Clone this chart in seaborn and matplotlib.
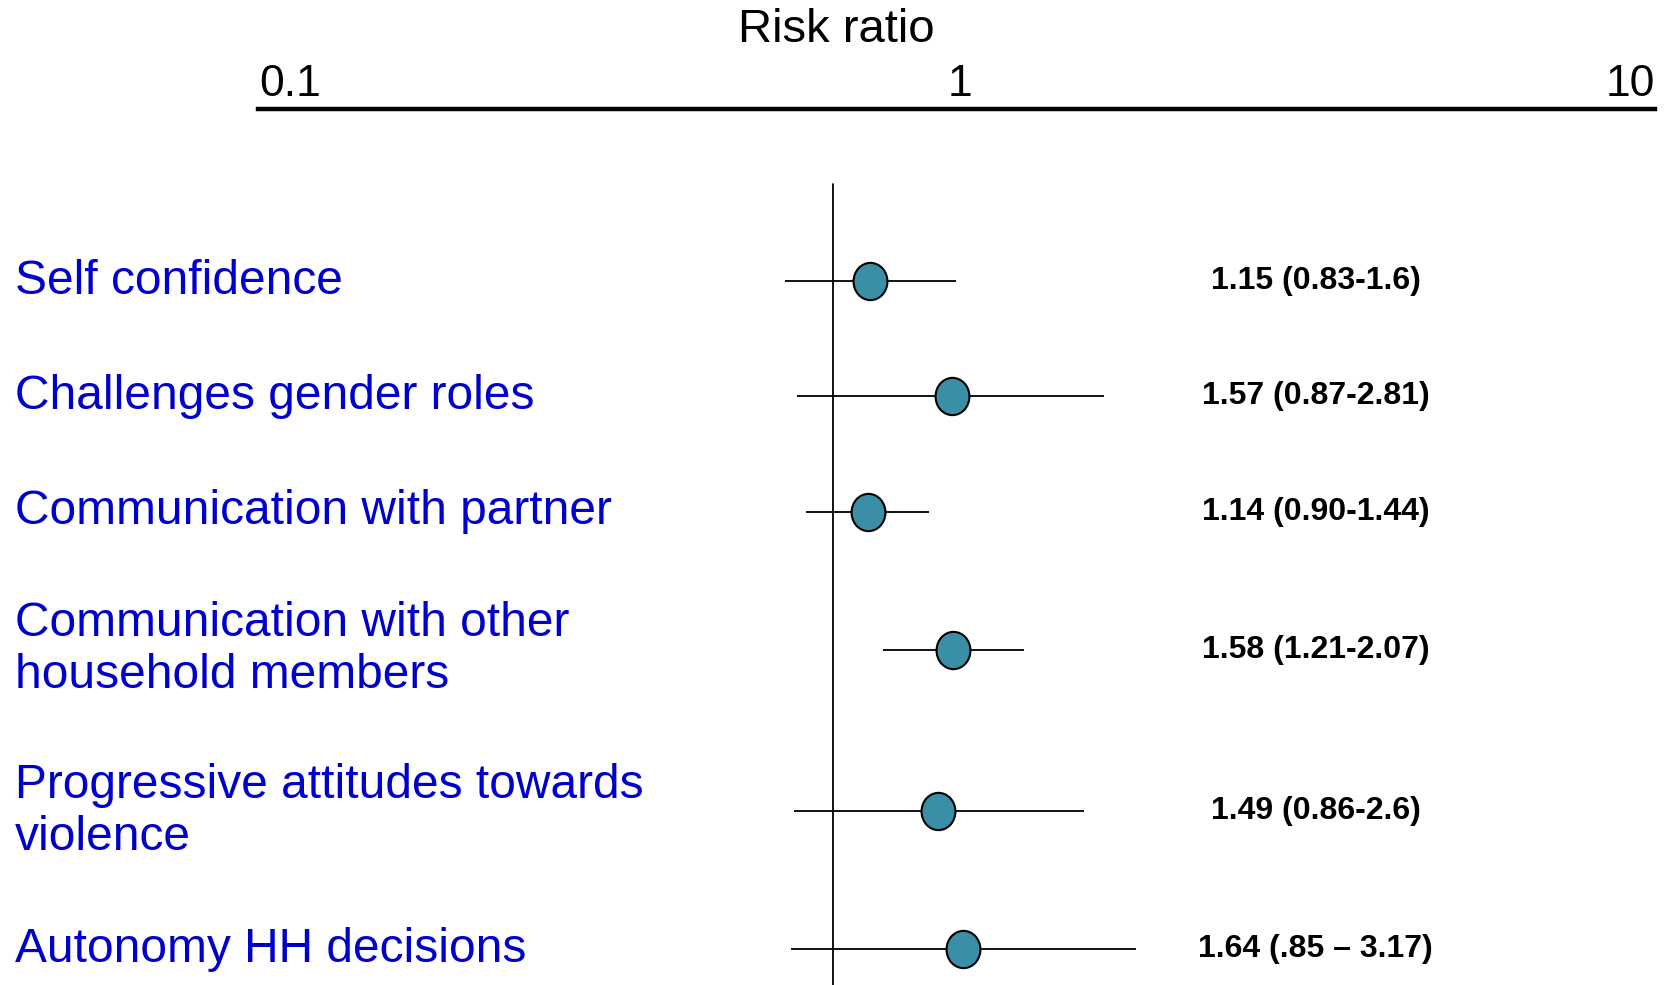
import numpy as np
import pandas as pd
import matplotlib
matplotlib.use("Agg")
import matplotlib.pyplot as plt
import seaborn as sns
from matplotlib.path import Path
from matplotlib.ticker import FixedLocator, NullLocator

# Data
outcomes = [
    "Self confidence",
    "Challenges gender roles",
    "Communication with partner",
    "Communication with other\nhousehold members",
    "Progressive attitudes towards\nviolence",
    "Autonomy HH decisions",
]
risk_ratio = [1.15, 1.57, 1.14, 1.58, 1.49, 1.64]
ci_low = [0.83, 0.87, 0.90, 1.21, 0.86, 0.85]
ci_high = [1.6, 2.81, 1.44, 2.07, 2.6, 3.17]
ci_labels = [
    "1.15 (0.83-1.6)",
    "1.57 (0.87-2.81)",
    "1.14 (0.90-1.44)",
    "1.58 (1.21-2.07)",
    "1.49 (0.86-2.6)",
    "1.64 (.85 \u2013 3.17)",
]
scale_ticks = [0.1, 1, 10]

sns.set_theme(style="white")
plt.rcParams["font.family"] = ["Liberation Sans", "DejaVu Sans"]

# Row positions: extra room for labels that wrap onto two lines
extra = [o.count("\n") for o in outcomes]
gaps = [0] + [1 + 0.2 * (extra[i - 1] + extra[i]) for i in range(1, len(outcomes))]
pos = np.cumsum(gaps)

df = pd.DataFrame({"outcome": outcomes, "rr": risk_ratio, "lo": ci_low,
                   "hi": ci_high, "label": ci_labels, "pos": pos})

# slightly tall ellipse marker, like the drawn shapes on the slide
circ = Path.unit_circle()
oval = Path(circ.vertices * np.array([1.0, 1.1]), circ.codes)

fig = plt.figure(figsize=(16.74, 9.85), dpi=100)

# Main forest plot area spans the whole figure
ax = fig.add_axes([0, 0, 1, 1])
ax.set_xscale("log")
ax.set_xlim(10 ** -1.382, 10 ** 1.394)
ax.set_ylim(6.11, -2.44)
ax.axis("off")

ax.axvline(1, ymin=0, ymax=0.813, color="black", lw=1.3, zorder=1)
ax.hlines(df["pos"], df["lo"], df["hi"], color="black", lw=1.3, zorder=2)
sns.scatterplot(data=df, x="rr", y="pos", ax=ax, s=720, marker=oval, color="#3A8FA7",
                edgecolor="black", linewidth=1.5, zorder=3, legend=False)

for _, row in df.iterrows():
    ax.text(0.009, row["pos"], row["outcome"], transform=ax.get_yaxis_transform(),
            ha="left", va="center", fontsize=34.5, color="#0000CC", linespacing=1.2)
    ax.text(0.786, row["pos"], row["label"], transform=ax.get_yaxis_transform(),
            ha="center", va="center", fontsize=23, fontweight="bold", color="black")

# Scale bar at the top
ax_top = fig.add_axes([258 / 1674, 0.888, (1655 - 258) / 1674, 0.001])
ax_top.set_xscale("log")
ax_top.set_xlim(10 ** -1.048, 10 ** 1.037)
ax_top.set_yticks([])
for side in ["left", "right", "bottom"]:
    ax_top.spines[side].set_visible(False)
ax_top.spines["top"].set_linewidth(3.2)
ax_top.spines["top"].set_color("black")
ax_top.xaxis.tick_top()
ax_top.xaxis.set_major_locator(FixedLocator(scale_ticks))
ax_top.xaxis.set_minor_locator(NullLocator())
ax_top.set_xticklabels([f"{t:g}" for t in scale_ticks])
ax_top.tick_params(axis="x", length=0, pad=3, labelsize=32, labelcolor="black")
ax_top.patch.set_alpha(0)

fig.text(836 / 1674, 1 - 30 / 985, "Risk ratio", ha="center", va="center",
         fontsize=34, color="black")

fig.savefig("out.png", dpi=100)
